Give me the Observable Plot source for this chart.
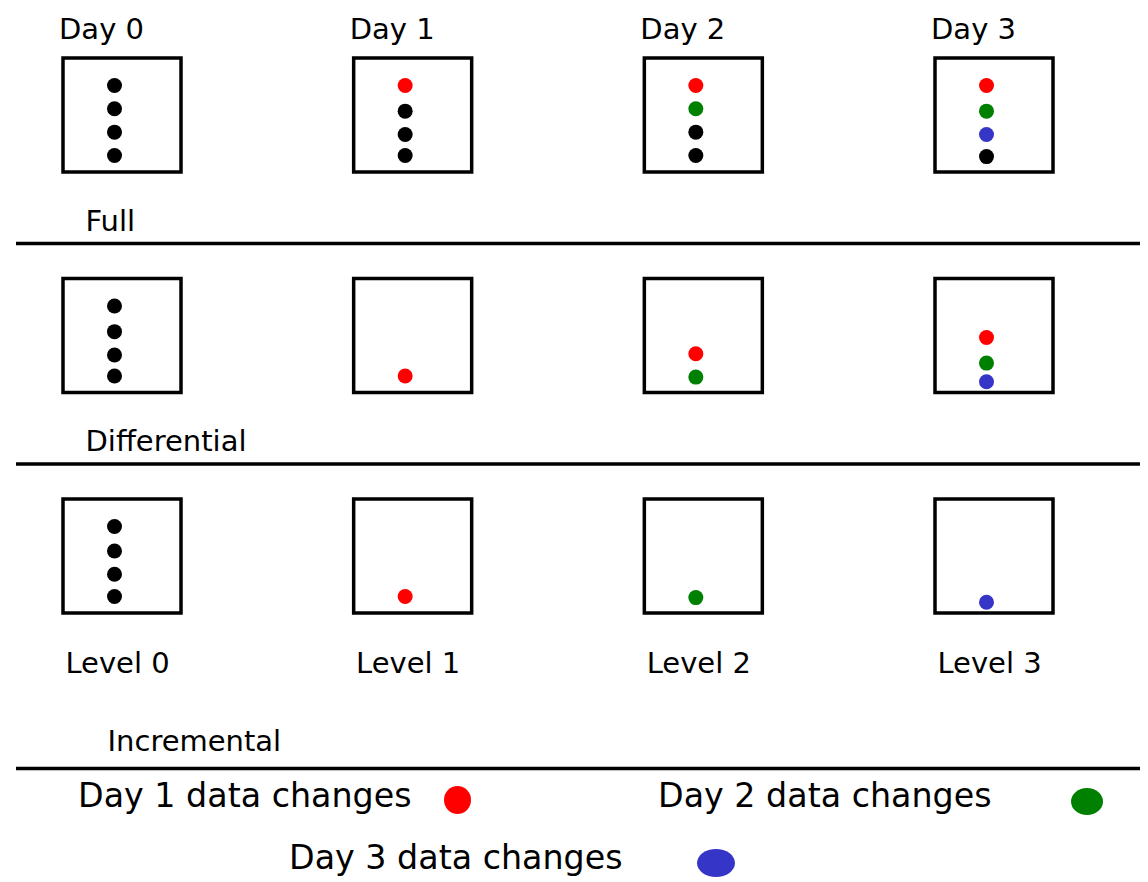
<!DOCTYPE html>
<html><head><meta charset="utf-8">
<script src="https://cdn.jsdelivr.net/npm/d3@7"></script>
<script src="https://cdn.jsdelivr.net/npm/@observablehq/plot@0.6"></script>
<style>
body{margin:0;background:#fff;font-family:"DejaVu Sans",sans-serif;}
#wrap{position:relative;width:1148px;height:882px;overflow:hidden;}
#legend{position:absolute;left:0;top:775px;width:1148px;height:107px;}
.lbl{position:absolute;font-size:33.3px;line-height:34px;white-space:nowrap;color:#000;}
.sw{position:absolute;border-radius:50%;}
</style></head><body>
<div id="wrap"><div id="chart"></div><div id="legend"></div></div>
<script>
// ---- data ----
const days = ["Day 0", "Day 1", "Day 2", "Day 3"];
const levels = ["Level 0", "Level 1", "Level 2", "Level 3"];
const schemes = ["Full", "Differential", "Incremental"];
const changeKeys = ["base", "Day 1", "Day 2", "Day 3"];
const changeColors = ["#000000", "#ff0000", "#008000", "#3535c8"];
// per day: [slot (0 = top of box, 3 = bottom), change]
const fullDots = [
  [[0, "base"], [1, "base"], [2, "base"], [3, "base"]],
  [[0, "Day 1"], [1.1, "base"], [2.1, "base"], [3, "base"]],
  [[0, "Day 1"], [1, "Day 2"], [2, "base"], [3, "base"]],
  [[0, "Day 1"], [1.1, "Day 2"], [2.1, "Day 3"], [3.05, "base"]]
];
const differentialDots = [
  [[0, "base"], [1.1, "base"], [2.1, "base"], [3, "base"]],
  [[3, "Day 1"]],
  [[2.05, "Day 1"], [3.05, "Day 2"]],
  [[1.35, "Day 1"], [2.45, "Day 2"], [3.25, "Day 3"]]
];
const incrementalDots = [
  [[0, "base"], [1.05, "base"], [2.05, "base"], [3, "base"]],
  [[3, "Day 1"]],
  [[3.05, "Day 2"]],
  [[3.25, "Day 3"]]
];
const legendLabels = ["Day 1 data changes", "Day 2 data changes", "Day 3 data changes"];
const legendKeys = ["Day 1", "Day 2", "Day 3"];

// ---- derived tables ----
const dotSets = [fullDots, differentialDots, incrementalDots];
const dots = dotSets.flatMap((set, row) =>
  set.flatMap((list, col) => list.map(([slot, change]) => ({row, col, slot, change}))));
const cells = schemes.flatMap((s, row) => days.map((d, col) => ({row, col})));
const slotY = d => d.row - 0.136 + d.slot * 0.1057;

const chart = Plot.plot({
  width: 1148, height: 775,
  marginLeft: 16, marginRight: 8, marginTop: 0, marginBottom: 0,
  x: {domain: [0, 3], range: [122, 994], axis: null},
  y: {domain: [0, 2], range: [115, 556], axis: null},
  color: {domain: changeKeys, range: changeColors},
  style: {fontFamily: "DejaVu Sans", background: "white", color: "black"},
  marks: [
    Plot.rect(cells, {x1: "col", x2: "col", y1: "row", y2: "row",
      insetLeft: -59, insetRight: -59, insetTop: -57, insetBottom: -57,
      fill: "none", stroke: "black", strokeWidth: 3.5}),
    Plot.dot(dots, {x: "col", y: slotY, fill: "change", r: 7.5, dx: -8}),
    Plot.text(days, {x: (d, i) => i, y: () => 0, text: d => d, dy: -86, dx: -21, fontSize: 29, fill: "black"}),
    Plot.text(levels, {x: (d, i) => i, y: () => 2, text: d => d, dy: 107, dx: -5, fontSize: 29, fill: "black"}),
    Plot.text(schemes.slice(0, 2), {x: () => 0, y: (d, i) => i, text: d => d, dy: 106, dx: -37, textAnchor: "start", fontSize: 29, fill: "black"}),
    Plot.text(schemes.slice(2), {x: () => 0, y: () => 2, text: d => d, dy: 185, dx: -15, textAnchor: "start", fontSize: 29, fill: "black"}),
    Plot.ruleY([0, 1], {dy: 128, stroke: "black", strokeWidth: 3.5}),
    Plot.ruleY([2], {dy: 212, stroke: "black", strokeWidth: 3.5})
  ]
});
document.getElementById("chart").appendChild(chart);

// ---- legend (below the SVG) ----
const legendLayout = [
  {left: 78, top: 4, sx: 457, sy: 25, w: 27, h: 28},
  {left: 658, top: 4, sx: 1087, sy: 26, w: 32, h: 27},
  {left: 289, top: 66, sx: 716, sy: 88, w: 38, h: 28}
];
const legend = document.getElementById("legend");
legendLabels.forEach((label, i) => {
  const L = legendLayout[i];
  const t = document.createElement("div");
  t.className = "lbl"; t.textContent = label;
  t.style.left = L.left + "px"; t.style.top = L.top + "px";
  legend.appendChild(t);
  const s = document.createElement("div");
  s.className = "sw";
  s.style.background = changeColors[changeKeys.indexOf(legendKeys[i])];
  s.style.width = L.w + "px"; s.style.height = L.h + "px";
  s.style.left = (L.sx - L.w / 2) + "px"; s.style.top = (L.sy - L.h / 2) + "px";
  legend.appendChild(s);
});
</script>
</body></html>
